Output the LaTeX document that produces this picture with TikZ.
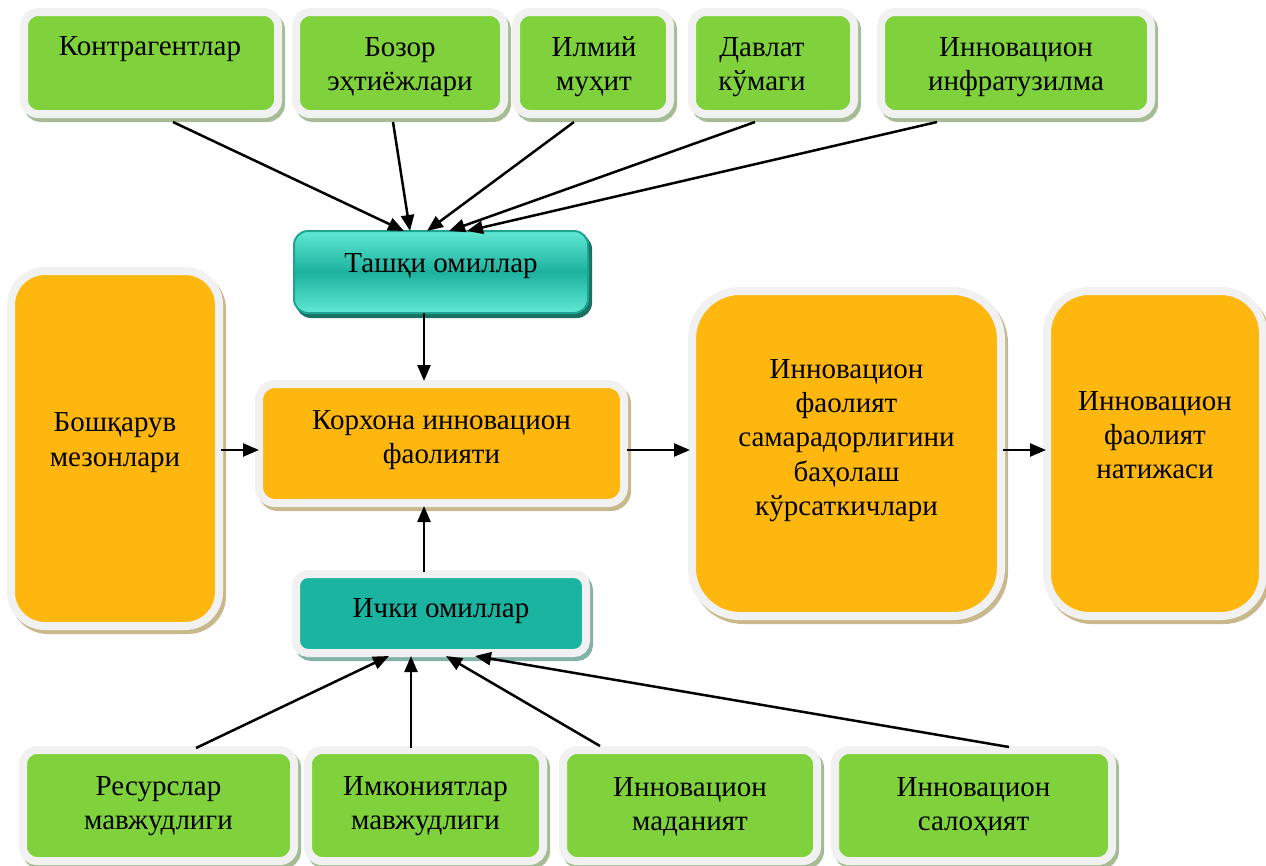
\documentclass[tikz,border=0pt]{standalone}
\usepackage{fontspec}
\setmainfont{Liberation Serif}
\usetikzlibrary{arrows.meta,calc}

\definecolor{boxgreen}{RGB}{127,210,60}
\definecolor{boxorange}{RGB}{253,183,15}
\definecolor{boxteal}{RGB}{27,180,160}
\definecolor{ringgrey}{RGB}{241,241,241}
\definecolor{shgreen}{RGB}{165,188,148}
\definecolor{shorange}{RGB}{200,184,140}
\definecolor{shteal}{RGB}{130,178,168}
\definecolor{tlight}{RGB}{96,232,212}
\definecolor{tdark}{RGB}{28,178,158}
\definecolor{tborder}{RGB}{30,165,145}
\definecolor{tshadow}{RGB}{25,115,100}

\newcommand\dgfont{\fontsize{29}{34.2}\selectfont}

\tikzset{
  ringbox/.style n args={3}{rectangle, draw=ringgrey, line width=8pt, fill=#1,
    rounded corners=#3, inner sep=0pt, outer sep=0pt,
    preaction={draw=#2, fill=#2, line width=8pt, transform canvas={shift={(3pt,-4pt)}}}},
  greenbox/.style={ringbox={boxgreen}{shgreen}{14pt}},
  txt/.style={align=center, font=\dgfont, inner sep=0pt},
  arr/.style={-{Triangle[length=16pt,width=13pt]}, line width=2.5pt, black},
}

\begin{document}
\begin{tikzpicture}[x=1pt, y=-1pt]
\useasboundingbox (0,0) rectangle (1266,865);

% top row
\node[greenbox, minimum width=254pt, minimum height=102pt] (t1) at (151,63) {};
\node[greenbox, minimum width=208pt, minimum height=102pt] (t2) at (400,63) {};
\node[greenbox, minimum width=154pt, minimum height=102pt] (t3) at (593,63) {};
\node[greenbox, minimum width=162pt, minimum height=102pt] (t4) at (773,63) {};
\node[greenbox, minimum width=270pt, minimum height=102pt] (t5) at (1016,63) {};
\node[txt] (t1txt) at (150,49) {Контрагентлар};
\node[txt] (t2txt) at (400,67) {Бозор\\эҳтиёжлари};
\node[txt] (t3txt) at (594,67) {Илмий\\муҳит};
\node[txt] (t4txt) at (762,67) {Давлат\\кўмаги};
\node[txt] (t5txt) at (1016,67) {Инновацион\\инфратузилма};

% external factors
\node[rectangle, minimum width=294pt, minimum height=82pt, inner sep=0pt, outer sep=0pt,
      rounded corners=14pt, draw=tborder, line width=2pt,
      top color=tlight, bottom color=tlight, middle color=tdark,
      preaction={fill=tshadow, draw=tshadow, line width=2pt, transform canvas={shift={(3pt,-4pt)}}}]
      (tashqi) at (441,272) {};
\node[txt] (tashqitxt) at (441,266) {Ташқи омиллар};

% central
\node[ringbox={boxorange}{shorange}{16pt}, minimum width=365pt, minimum height=119pt] (korxona) at (441.5,443.5) {};
\node[txt] (korxonatxt) at (441.5,440) {Корхона инновацион\\фаолияти};

% internal factors
\node[ringbox={boxteal}{shteal}{12pt}, minimum width=290pt, minimum height=79pt] (ichki) at (441,613.5) {};
\node[txt] (ichkitxt) at (441,611) {Ички омиллар};

% left
\node[ringbox={boxorange}{shorange}{34pt}, minimum width=208pt, minimum height=355pt] (boshq) at (115,448.5) {};
\node[txt] (boshqtxt) at (115,442.5) {Бошқарув\\мезонлари};

% big box
\node[ringbox={boxorange}{shorange}{48pt}, minimum width=309pt, minimum height=325pt] (big) at (846.5,453.5) {};
\node[txt] (bigtxt) at (846.5,440.5) {Инновацион\\фаолият\\самарадорлигини\\баҳолаш\\кўрсаткичлари};

% result box
\node[ringbox={boxorange}{shorange}{42pt}, minimum width=216pt, minimum height=325pt] (res) at (1155,453.5) {};
\node[txt] (restxt) at (1155,435) {Инновацион\\фаолият\\натижаси};

% bottom row
\node[greenbox, minimum width=271pt, minimum height=111pt] (b1) at (158.5,805.5) {};
\node[greenbox, minimum width=235pt, minimum height=111pt] (b2) at (425.5,805.5) {};
\node[greenbox, minimum width=254pt, minimum height=111pt] (b3) at (690,805.5) {};
\node[greenbox, minimum width=277pt, minimum height=111pt] (b4) at (973.5,805.5) {};
\node[txt] (b1txt) at (158.5,806.5) {Ресурслар\\мавжудлиги};
\node[txt] (b2txt) at (425.5,806.5) {Имкониятлар\\мавжудлиги};
\node[txt] (b3txt) at (690,806.5) {Инновацион\\маданият};
\node[txt] (b4txt) at (973.5,806.5) {Инновацион\\салоҳият};

% arrows top
\draw[arr] ($(t1.south)+(22,8)$) -- ($(tashqi.north)+(-37,0)$);
\draw[arr] ($(t2.south)+(-7,8)$) -- ($(tashqi.north)+(-31,0)$);
\draw[arr] ($(t3.south)+(-19,8)$) -- ($(tashqi.north)+(-14,0)$);
\draw[arr] ($(t4.south)+(-18,8)$) -- ($(tashqi.north)+(8,0)$);
\draw[arr] ($(t5.south)+(-79,8)$) -- ($(tashqi.north)+(26,0)$);
% middle arrows
\draw[arr] ($(tashqi.south)+(-17,0)$) -- ($(korxona.north)+(-17.5,-3)$);
\draw[arr] ($(ichki.north)+(-17,-2)$) -- ($(korxona.south)+(-17.5,3)$);
\draw[arr] ($(boshq.east)+(2,1.5)$) -- ($(korxona.west)+(0,6.5)$);
\draw[arr] ($(korxona.east)+(3,6.5)$) -- ($(big.west)+(-2,-3.5)$);
\draw[arr] ($(big.east)+(2,-3.5)$) -- ($(res.west)+(-1,-3.5)$);
% bottom arrows
\draw[arr] ($(b1.north)+(37.5,-2)$) -- ($(ichki.south)+(-52,3)$);
\draw[arr] ($(b2.north)+(-14.5,-2)$) -- ($(ichki.south)+(-30,3)$);
\draw[arr] ($(b3.north)+(-90,-4)$) -- ($(ichki.south)+(5,3)$);
\draw[arr] ($(b4.north)+(35.5,-3)$) -- ($(ichki.south)+(34,3)$);
\end{tikzpicture}
\end{document}
